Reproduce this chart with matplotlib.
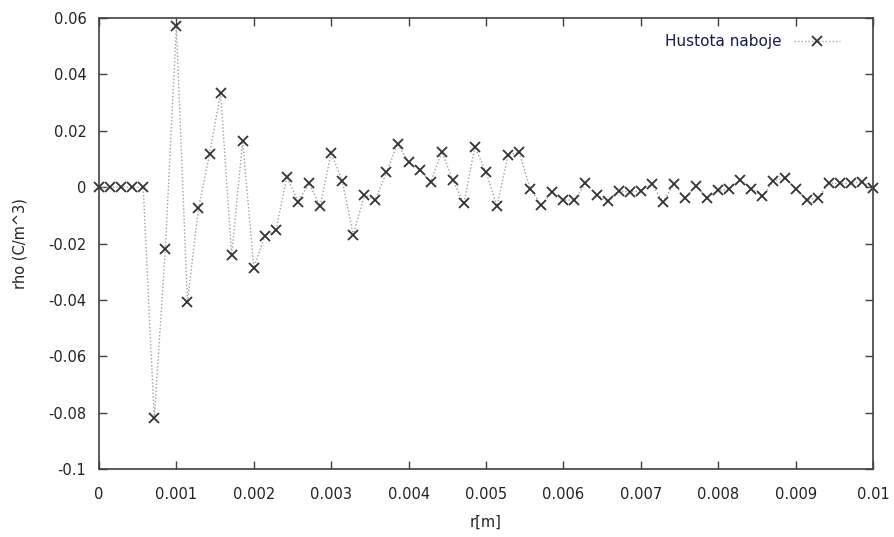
import numpy as np
import matplotlib.pyplot as plt

# charge density samples, 71 points over r = 0 .. 0.01 m
n_points = 71
rho = [0, 0, 0, 0, 0, -0.0820, -0.0221, 0.0571, -0.0407, -0.0075,
       0.0117, 0.0335, -0.0241, 0.0164, -0.0286, -0.0173, -0.0153, 0.0037,
       -0.0052, 0.0013, -0.0067, 0.0122, 0.0022, -0.0170, -0.0028, -0.0044,
       0.0052, 0.0153, 0.0090, 0.0060, 0.0019, 0.0125, 0.0025, -0.0058,
       0.0143, 0.0054, -0.0067, 0.0114, 0.0123, -0.0005, -0.0064, -0.0017,
       -0.0046, -0.0046, 0.0013, -0.0028, -0.0050, -0.0013, -0.0017, -0.0013,
       0.0010, -0.0052, 0.0010, -0.0038, 0.0005, -0.0038, -0.0011, -0.0008,
       0.0027, -0.0005, -0.0032, 0.0021, 0.0033, -0.0005, -0.0044, -0.0040,
       0.0015, 0.0013, 0.0013, 0.0019, -0.0002]
r = np.linspace(0, 0.01, n_points)

xticks = [0, 0.001, 0.002, 0.003, 0.004, 0.005, 0.006, 0.007, 0.008, 0.009, 0.01]
xticklabels = ['0', '0.001', '0.002', '0.003', '0.004', '0.005', '0.006',
               '0.007', '0.008', '0.009', '0.01']
yticks = [0.06, 0.04, 0.02, 0, -0.02, -0.04, -0.06, -0.08, -0.1]
yticklabels = ['0.06', '0.04', '0.02', '0', '-0.02', '-0.04', '-0.06', '-0.08', '-0.1']

plt.rcParams['font.family'] = ['DejaVu Sans']

fig = plt.figure(figsize=(8.94, 5.37), dpi=100)
ax = fig.add_axes([0.1107, 0.1266, 0.8658, 0.8399])

ax.plot(r, rho, color='#a0a0a0', linewidth=1.0, linestyle=(0, (1, 1.5)),
        marker='x', markersize=7, markeredgewidth=1.3,
        markeredgecolor='#333333', label='Hustota naboje', clip_on=False)

ax.set_xlim(0, 0.01)
ax.set_ylim(-0.1, 0.06)
ax.set_xticks(xticks)
ax.set_xticklabels(xticklabels)
ax.set_yticks(yticks)
ax.set_yticklabels(yticklabels)

ax.tick_params(direction='in', length=6, width=1, color='#404040',
               top=True, right=True, labelsize=10.5, labelcolor='#222222')
ax.tick_params(axis='x', pad=13)
ax.tick_params(axis='y', pad=9)
for s in ax.spines.values():
    s.set_color('#404040')
    s.set_linewidth(1.2)

ax.set_xlabel('r[m]', fontsize=10.5, color='#222222', labelpad=9)
ax.set_ylabel('rho (C/m^3)', fontsize=10.5, color='#222222', labelpad=15)

leg = ax.legend(loc='upper right', frameon=False, markerfirst=False,
                fontsize=11, handlelength=3, bbox_to_anchor=(0.975, 0.995))
for t in leg.get_texts():
    t.set_color('#1a1a4a')

fig.savefig('out.png', dpi=100)
